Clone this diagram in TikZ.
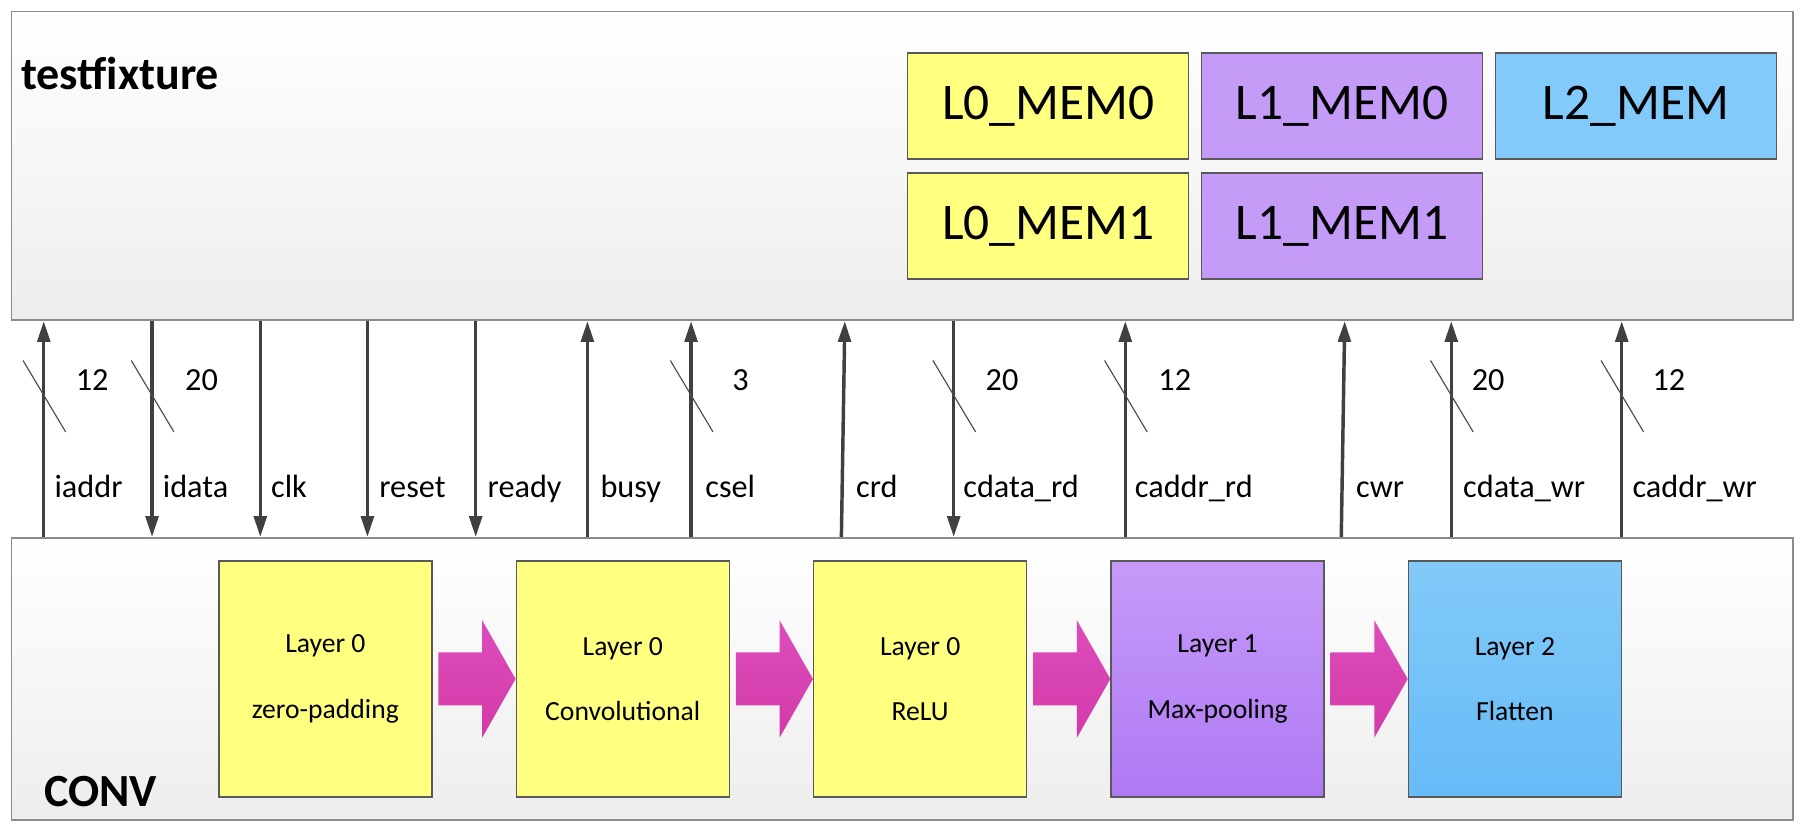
\documentclass[tikz,border=0pt]{standalone}
\usepackage{fontspec}
\setmainfont{Carlito}
\usepackage{tikz}
\usetikzlibrary{arrows.meta, calc, positioning}

\definecolor{memyellow}{HTML}{FFFF80}
\definecolor{mempurple}{HTML}{C59BF8}
\definecolor{memblue}{HTML}{82CAFA}
\definecolor{sigline}{HTML}{404040}

\begin{document}
\begin{tikzpicture}[x=0.5pt, y=-0.5pt,
    outerbox/.style={draw=black!45, line width=0.8pt, top color=white, bottom color=black!7, minimum width=773.5pt, inner sep=0pt},
    membox/.style={draw=black!65, line width=0.6pt, minimum width=122pt, minimum height=46pt, font=\fontsize{22.3}{26}\selectfont},
    layerbox/.style={draw=black!65, line width=0.6pt, minimum width=92.5pt, minimum height=102.5pt, align=center, font=\fontsize{12}{28.5}\selectfont},
    purplebox/.style={layerbox, top color={rgb,255:red,198;green,154;blue,249}, bottom color={rgb,255:red,175;green,121;blue,243}},
    bluebox/.style={layerbox, top color={rgb,255:red,130;green,202;blue,249}, bottom color={rgb,255:red,102;green,187;blue,247}},
    fat/.style={top color={rgb,255:red,222;green,76;blue,188}, bottom color={rgb,255:red,210;green,58;blue,168}},
    sig/.style={draw=sigline, line width=1.5pt, -{Stealth[length=9pt,width=5.5pt,inset=0pt]}},
    tick/.style={draw=black!70, line width=0.5pt},
    lbl/.style={anchor=base west, inner sep=0pt, font=\fontsize{14}{16}\selectfont},
    wid/.style={anchor=base, inner sep=0pt, font=\fontsize{14}{16}\selectfont},
    title/.style={anchor=base west, inner sep=0pt, font=\bfseries\fontsize{20}{23}\selectfont}]
    \useasboundingbox (0,0) rectangle (1568,720.6);
    \fill[white] (0,0) rectangle (1568,720.6);

    \node (tf) [outerbox, minimum height=134pt] at (783.5,144) {};
    \node (conv) [outerbox, minimum height=122.5pt] at (783.5,589.5) {};
    \node (tfx) [title] at (18,78) {testfixture};
    \node (cnv) [title] at (38,700) {CONV};

    \node (l0m0) [membox, fill=memyellow] at (910,92) {L0\_MEM0};
    \node (l1m0) [membox, fill=mempurple, right=5pt of l0m0] {L1\_MEM0};
    \node (l2m) [membox, fill=memblue, right=5pt of l1m0] {L2\_MEM};
    \node (l0m1) [membox, fill=memyellow, below=5.5pt of l0m0] {L0\_MEM1};
    \node (l1m1) [membox, fill=mempurple, below=5.5pt of l1m0] {L1\_MEM1};

    \node (zp) [layerbox, fill=memyellow] at (282.5,589.5) {Layer 0\\zero-padding};
    \node (cv) [layerbox, fill=memyellow, right=36pt of zp] {Layer 0\\Convolutional};
    \node (relu) [layerbox, fill=memyellow, right=36pt of cv] {Layer 0\\ReLU};
    \node (mp) [purplebox, right=36pt of relu] {Layer 1\\Max-pooling};
    \node (fl) [bluebox, right=36pt of mp] {Layer 2\\Flatten};

    \path[fat] ($(zp.east)+(5,-23)$) -- ++(38,0) -- ++(0,-28) -- (cv.west)
        -- ($(zp.east)+(43,51)$) -- ++(0,-28) -- ++(-38,0) -- cycle;
    \path[fat] ($(cv.east)+(5,-23)$) -- ++(38,0) -- ++(0,-28) -- (relu.west)
        -- ($(cv.east)+(43,51)$) -- ++(0,-28) -- ++(-38,0) -- cycle;
    \path[fat] ($(relu.east)+(5,-23)$) -- ++(38,0) -- ++(0,-28) -- (mp.west)
        -- ($(relu.east)+(43,51)$) -- ++(0,-28) -- ++(-38,0) -- cycle;
    \path[fat] ($(mp.east)+(5,-23)$) -- ++(38,0) -- ++(0,-28) -- (fl.west)
        -- ($(mp.east)+(43,51)$) -- ++(0,-28) -- ++(-38,0) -- cycle;

    \coordinate (iaddr) at (38,344);
    \coordinate (idata) at (132,344);
    \coordinate (clk) at (226,344);
    \coordinate (reset) at (319,344);
    \coordinate (ready) at (413,344);
    \coordinate (busy) at (510,344);
    \coordinate (csel) at (600,344);
    \coordinate (crd) at (732,344);
    \coordinate (cdatard) at (828,344);
    \coordinate (caddrrd) at (977,344);
    \coordinate (cwr) at (1166,344);
    \coordinate (cdatawr) at (1260,344);
    \coordinate (caddrwr) at (1408,344);

    \draw[sig] (iaddr |- conv.north) -- (iaddr |- tf.south);
    \draw[sig] (idata |- tf.south) -- (idata |- conv.north);
    \draw[sig] (clk |- tf.south) -- (clk |- conv.north);
    \draw[sig] (reset |- tf.south) -- (reset |- conv.north);
    \draw[sig] (ready |- tf.south) -- (ready |- conv.north);
    \draw[sig] (busy |- conv.north) -- (busy |- tf.south);
    \draw[sig] (csel |- conv.north) -- (csel |- tf.south);
    \draw[sig] ($(crd |- conv.north)+(-1.5,0)$) -- ($(crd |- tf.south)+(1.5,0)$);
    \draw[sig] (cdatard |- tf.south) -- (cdatard |- conv.north);
    \draw[sig] (caddrrd |- conv.north) -- (caddrrd |- tf.south);
    \draw[sig] ($(cwr |- conv.north)+(-1.5,0)$) -- ($(cwr |- tf.south)+(1.5,0)$);
    \draw[sig] (cdatawr |- conv.north) -- (cdatawr |- tf.south);
    \draw[sig] (caddrwr |- conv.north) -- (caddrwr |- tf.south);

    \draw[tick] ($(iaddr)+(-18,-31)$) -- ($(iaddr)+(19,31)$);
    \draw[tick] ($(idata)+(-18,-31)$) -- ($(idata)+(19,31)$);
    \draw[tick] ($(csel)+(-18,-31)$) -- ($(csel)+(19,31)$);
    \draw[tick] ($(cdatard)+(-18,-31)$) -- ($(cdatard)+(19,31)$);
    \draw[tick] ($(caddrrd)+(-18,-31)$) -- ($(caddrrd)+(19,31)$);
    \draw[tick] ($(cdatawr)+(-18,-31)$) -- ($(cdatawr)+(19,31)$);
    \draw[tick] ($(caddrwr)+(-18,-31)$) -- ($(caddrwr)+(19,31)$);

    \node (w-iaddr) [wid] at ($(iaddr)+(42,-5)$) {12};
    \node (w-idata) [wid] at ($(idata)+(43,-5)$) {20};
    \node (w-csel) [wid] at ($(csel)+(43,-5)$) {3};
    \node (w-cdatard) [wid] at ($(cdatard)+(42,-5)$) {20};
    \node (w-caddrrd) [wid] at ($(caddrrd)+(43,-5)$) {12};
    \node (w-cdatawr) [wid] at ($(cdatawr)+(32,-5)$) {20};
    \node (w-caddrwr) [wid] at ($(caddrwr)+(41,-5)$) {12};

    \node (l-iaddr) [lbl] at ($(iaddr)+(9,88)$) {iaddr};
    \node (l-idata) [lbl] at ($(idata)+(9,88)$) {idata};
    \node (l-clk) [lbl] at ($(clk)+(9,88)$) {clk};
    \node (l-reset) [lbl] at ($(reset)+(10,88)$) {reset};
    \node (l-ready) [lbl] at ($(ready)+(10,88)$) {ready};
    \node (l-busy) [lbl] at ($(busy)+(11,88)$) {busy};
    \node (l-csel) [lbl] at ($(csel)+(12,88)$) {csel};
    \node (l-crd) [lbl] at ($(crd)+(11,88)$) {crd};
    \node (l-cdatard) [lbl] at ($(cdatard)+(8,88)$) {cdata\_rd};
    \node (l-caddrrd) [lbl] at ($(caddrrd)+(8,88)$) {caddr\_rd};
    \node (l-cwr) [lbl] at ($(cwr)+(11,88)$) {cwr};
    \node (l-cdatawr) [lbl] at ($(cdatawr)+(10,88)$) {cdata\_wr};
    \node (l-caddrwr) [lbl] at ($(caddrwr)+(9,88)$) {caddr\_wr};
\end{tikzpicture}
\end{document}
